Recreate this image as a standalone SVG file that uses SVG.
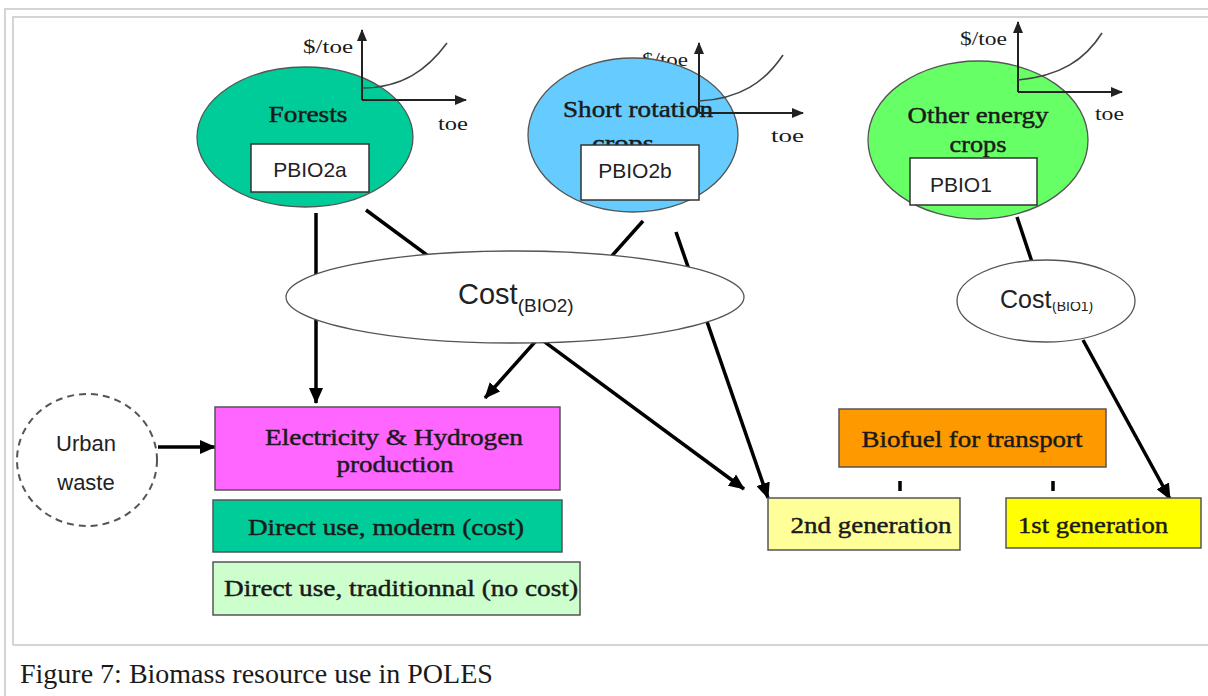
<svg xmlns="http://www.w3.org/2000/svg" width="1208" height="696" viewBox="0 0 1208 696">
  <defs>
    <marker id="arrow" markerUnits="userSpaceOnUse" markerWidth="16" markerHeight="14" refX="15" refY="7" orient="auto">
      <path d="M0,0 L16,7 L0,14 Z" fill="#000"/>
    </marker>
    <marker id="axis" markerUnits="userSpaceOnUse" markerWidth="12" markerHeight="10" refX="11" refY="5" orient="auto">
      <path d="M0,0 L12,5 L0,10 Z" fill="#222"/>
    </marker>
    <clipPath id="subClip">
      <rect x="1040" y="302" width="80" height="20"/>
    </clipPath>
    <style>
      .frame { fill: none; stroke: #d4d4d4; stroke-width: 2; }
      .res { stroke: #555; stroke-width: 1.3; }
      .box { stroke: #555; stroke-width: 1.5; }
      .pbox { fill: #fff; stroke: #333; stroke-width: 1.5; }
      .serif { font-family: "Liberation Serif", "Times New Roman", serif; fill: #1a1a1a; }
      .heavy { stroke: #1a1a1a; stroke-width: 0.45; }
      .sans { font-family: "Liberation Sans", Arial, sans-serif; fill: #222; }
      .lbl { font-size: 23px; text-anchor: middle; }
      .axlbl { font-size: 18px; }
      .pb { font-size: 21px; }
      .ax { fill: none; stroke: #222; stroke-width: 2; }
      .curve { fill: none; stroke: #444; stroke-width: 1.6; }
      .link { fill: none; stroke: #000; stroke-width: 3.5; }
      .cost { fill: #fff; stroke: #555; stroke-width: 1.3; }
    </style>
  </defs>

  <rect width="1208" height="696" fill="#fff"/>

  <!-- page frames -->
  <path class="frame" d="M5,696 V9 H1208"/>
  <path class="frame" d="M13,645 V17 H1208 M13,645 H1208"/>

  <!-- connectors -->
  <g id="connectors">
    <line class="link" x1="316" y1="213" x2="316" y2="403" marker-end="url(#arrow)"/>
    <line class="link" x1="366" y1="210" x2="744" y2="489" marker-end="url(#arrow)"/>
    <line class="link" x1="643" y1="221" x2="485" y2="398" marker-end="url(#arrow)"/>
    <line class="link" x1="676" y1="232" x2="768" y2="498" marker-end="url(#arrow)"/>
    <line class="link" x1="1017" y1="217" x2="1032" y2="262"/>
    <line class="link" x1="1083" y1="340" x2="1170" y2="499" marker-end="url(#arrow)"/>
    <line class="link" x1="158" y1="447" x2="215" y2="447" stroke-width="2.5" marker-end="url(#arrow)"/>
    <line class="link" x1="900" y1="481" x2="900" y2="491" stroke-width="3"/>
    <line class="link" x1="1053" y1="481" x2="1053" y2="491" stroke-width="3"/>
  </g>

  <!-- resource: forests -->
  <g id="forests">
    <ellipse class="res" cx="305" cy="137" rx="108" ry="70" fill="#00cc99"/>
    <text class="serif heavy lbl" x="308" y="122" textLength="79" lengthAdjust="spacingAndGlyphs">Forests</text>
    <rect class="pbox" x="251" y="144" width="118" height="48"/>
    <text class="sans pb" x="310" y="177" text-anchor="middle">PBIO2a</text>
    <text class="serif axlbl" x="303" y="53" textLength="50" lengthAdjust="spacingAndGlyphs">$/toe</text>
    <path class="ax" d="M362,100 V30" marker-end="url(#axis)"/>
    <path class="ax" d="M362,100 H466" marker-end="url(#axis)"/>
    <path class="curve" d="M362,88 C402,88 427,70 447,43"/>
    <text class="serif axlbl" x="438" y="130" textLength="30" lengthAdjust="spacingAndGlyphs">toe</text>
  </g>

  <!-- resource: short rotation crops -->
  <g id="short-rotation">
    <text class="serif axlbl" x="642" y="66" textLength="46" lengthAdjust="spacingAndGlyphs">$/toe</text>
    <ellipse class="res" cx="633" cy="135" rx="105" ry="77" fill="#66ccff"/>
    <text class="serif heavy lbl" x="638" y="117" textLength="150" lengthAdjust="spacingAndGlyphs">Short rotation</text>
    <text class="serif heavy lbl" x="623" y="151" textLength="62" lengthAdjust="spacingAndGlyphs">crops</text>
    <rect class="pbox" x="581" y="145" width="118" height="55"/>
    <text class="sans pb" x="635" y="178" text-anchor="middle">PBIO2b</text>
    <path class="ax" d="M699,113 V43" marker-end="url(#axis)"/>
    <path class="ax" d="M699,113 H803" marker-end="url(#axis)"/>
    <path class="curve" d="M699,101 C740,99 765,82 783,55"/>
    <text class="serif axlbl" x="771" y="142" textLength="33" lengthAdjust="spacingAndGlyphs">toe</text>
  </g>

  <!-- resource: other energy crops -->
  <g id="other-crops">
    <ellipse class="res" cx="978" cy="140" rx="110" ry="79" fill="#66ff66"/>
    <text class="serif heavy lbl" x="978" y="123" textLength="141" lengthAdjust="spacingAndGlyphs">Other energy</text>
    <text class="serif heavy lbl" x="978" y="152" textLength="57" lengthAdjust="spacingAndGlyphs">crops</text>
    <rect class="pbox" x="910" y="158" width="127" height="47"/>
    <text class="sans pb" x="930" y="192">PBIO1</text>
    <text class="serif axlbl" x="960" y="45" textLength="47" lengthAdjust="spacingAndGlyphs">$/toe</text>
    <path class="ax" d="M1018,92 V22" marker-end="url(#axis)"/>
    <path class="ax" d="M1018,92 H1122" marker-end="url(#axis)"/>
    <path class="curve" d="M1018,80 C1060,76 1085,60 1102,33"/>
    <text class="serif axlbl" x="1095" y="120" textLength="29" lengthAdjust="spacingAndGlyphs">toe</text>
  </g>

  <!-- cost nodes -->
  <g id="cost-bio2">
    <ellipse class="cost" cx="515" cy="297" rx="229" ry="46"/>
    <text class="sans" x="458" y="304" font-size="29">Cost<tspan font-size="19" dy="8">(BIO2)</tspan></text>
  </g>
  <g id="cost-bio1">
    <ellipse class="cost" cx="1046" cy="301" rx="89" ry="41"/>
    <text class="sans" x="1000" y="308" font-size="25">Cost</text>
    <text class="sans" x="1052" y="311" font-size="14" clip-path="url(#subClip)">(BIO1)</text>
  </g>

  <!-- urban waste -->
  <g id="urban-waste">
    <ellipse cx="87" cy="460" rx="70" ry="66" fill="none" stroke="#555" stroke-width="2" stroke-dasharray="7 5"/>
    <text class="sans" x="86" y="451" font-size="22" text-anchor="middle">Urban</text>
    <text class="sans" x="86" y="490" font-size="22" text-anchor="middle">waste</text>
  </g>

  <!-- uses -->
  <g id="electricity">
    <rect class="box" x="215" y="407" width="345" height="83" fill="#ff66ff"/>
    <text class="serif heavy lbl" x="394" y="445" textLength="258" lengthAdjust="spacingAndGlyphs">Electricity &amp; Hydrogen</text>
    <text class="serif heavy lbl" x="395" y="472" textLength="117" lengthAdjust="spacingAndGlyphs">production</text>
  </g>
  <g id="direct-modern">
    <rect class="box" x="213" y="500" width="349" height="52" fill="#00cc99"/>
    <text class="serif heavy lbl" x="386" y="535" textLength="276" lengthAdjust="spacingAndGlyphs">Direct use, modern (cost)</text>
  </g>
  <g id="direct-traditional">
    <rect class="box" x="213" y="562" width="367" height="53" fill="#ccffcc"/>
    <text class="serif heavy lbl" x="401" y="596" textLength="354" lengthAdjust="spacingAndGlyphs">Direct use, traditionnal (no cost)</text>
  </g>
  <g id="biofuel">
    <rect class="box" x="839" y="409" width="267" height="58" fill="#ff9900"/>
    <text class="serif heavy lbl" x="972" y="447" textLength="221" lengthAdjust="spacingAndGlyphs">Biofuel for transport</text>
  </g>
  <g id="second-gen">
    <rect class="box" x="768" y="498" width="192" height="52" fill="#ffff99"/>
    <text class="serif heavy lbl" x="871" y="533" textLength="161" lengthAdjust="spacingAndGlyphs">2nd generation</text>
  </g>
  <g id="first-gen">
    <rect class="box" x="1006" y="498" width="195" height="50" fill="#ffff00"/>
    <text class="serif heavy lbl" x="1093" y="533" textLength="150" lengthAdjust="spacingAndGlyphs">1st generation</text>
  </g>

  <!-- caption -->
  <text class="serif" x="20" y="683" font-size="28" fill="#000">Figure 7: Biomass resource use in POLES</text>
</svg>
